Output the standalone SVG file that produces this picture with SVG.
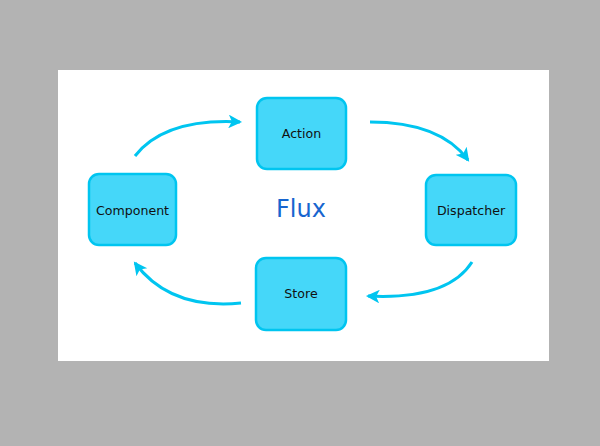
<svg xmlns="http://www.w3.org/2000/svg" width="600" height="446" viewBox="0 0 600 446">
<style>
.node rect{fill:#45d7f9;stroke:#00c5f0;stroke-width:2.5}
.node text{font-family:"DejaVu Sans",sans-serif;font-size:12.6px;fill:#111;text-anchor:middle;dominant-baseline:central}
.conn path{fill:none;stroke:#00c5f0;stroke-width:3}
</style>
<defs>
<marker id="ah" viewBox="0 0 10 10" refX="8.5" refY="5" markerWidth="4.8" markerHeight="4.5" orient="auto" markerUnits="strokeWidth">
<path d="M0,0 L10,5 L0,10 L2.5,5 Z" fill="#00c5f0"/>
</marker>
</defs>
<rect x="0" y="0" width="600" height="446" fill="#b3b3b3"/>
<rect x="58" y="70" width="491" height="291" fill="#ffffff"/>
<g class="conn">
<path d="M135,156 Q165,118 240,122" marker-end="url(#ah)"/>
<path d="M370,122 Q440,122 468,160" marker-end="url(#ah)"/>
<path d="M472,262 Q448,300 368,296" marker-end="url(#ah)"/>
<path d="M241,303 Q170,310 135,263" marker-end="url(#ah)"/>
</g>
<g id="action" class="node"><rect x="257" y="98" width="89" height="71" rx="10"/><text x="301.5" y="133.5">Action</text></g>
<g id="component" class="node"><rect x="89" y="174" width="87" height="71" rx="10"/><text x="132.5" y="210">Component</text></g>
<g id="dispatcher" class="node"><rect x="426" y="175" width="90" height="70" rx="10"/><text x="471" y="210.5">Dispatcher</text></g>
<g id="store" class="node"><rect x="256" y="258" width="90" height="72" rx="10"/><text x="301" y="293.5">Store</text></g>
<text x="301" y="209" font-family="DejaVu Sans,sans-serif" font-size="24" fill="#1765cf" text-anchor="middle" dominant-baseline="central">Flux</text>
</svg>
